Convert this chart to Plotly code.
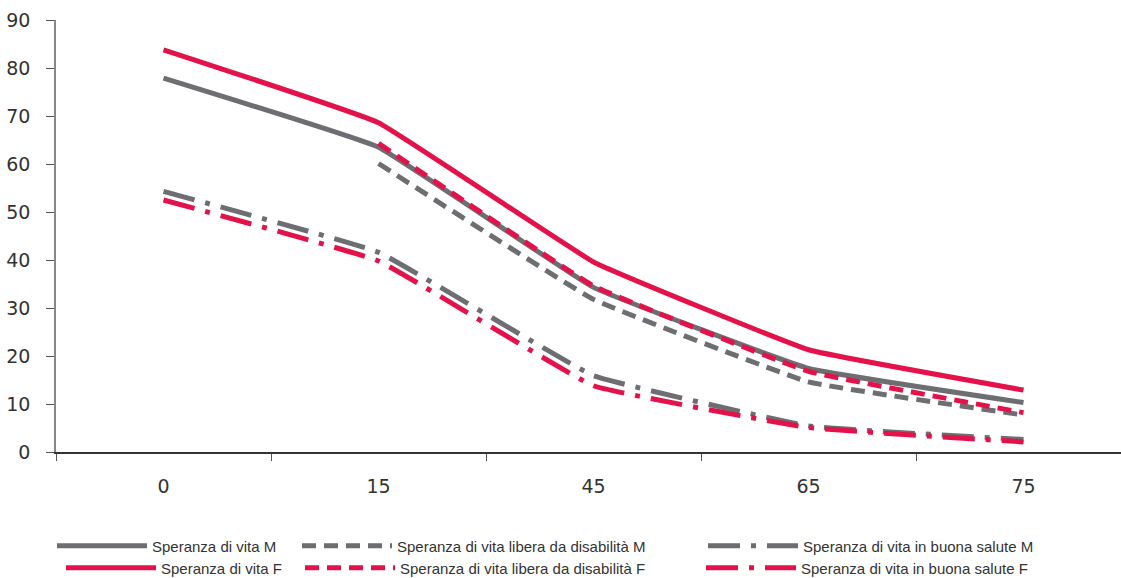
import plotly.graph_objects as go

categories = ["0", "15", "45", "65", "75"]

vita_M = [77.9, 63.5, 34.3, 17.4, 10.3]
vita_F = [83.8, 68.6, 39.6, 21.3, 12.9]
libera_M = [None, 60.1, 31.8, 14.6, 7.7]
libera_F = [None, 64.3, 34.6, 16.8, 8.2]
salute_M = [54.3, 41.6, 15.9, 5.4, 2.6]
salute_F = [52.5, 39.8, 13.8, 5.1, 2.1]

names = ["Speranza di vita M", "Speranza di vita libera da disabilità M", "Speranza di vita in buona salute M",
         "Speranza di vita F", "Speranza di vita libera da disabilità F", "Speranza di vita in buona salute F"]

GREY = "#6d6e71"
RED = "#e3124b"
DASH = "14px,8px"
DASHDOT = "32px,11px,5px,11px"

# page geometry (body margin removed, div at 0,0)
PL, PT, PR, PB = 56, 20, 0, 126
W, H = 1121, 578
plot_w = W - PL - PR
plot_h = H - PT - PB


def px_to_paper_x(px):
    return (px - PL) / plot_w


def px_to_paper_y(py):
    return (H - PB - py) / plot_h


# legend entry positions in page pixels (sample start x, row centre y)
legend_pos = [(57, 546), (302, 546), (708, 546), (66, 568), (305, 568), (706, 568)]

fig = go.Figure()
series = [
    (vita_M, GREY, "solid"),
    (libera_M, GREY, DASH),
    (salute_M, GREY, DASHDOT),
    (vita_F, RED, "solid"),
    (libera_F, RED, DASH),
    (salute_F, RED, DASHDOT),
]
leg_font = dict(family="Liberation Sans, Arial, sans-serif", size=15, color="#333333")
layout_legends = {}
for i, ((vals, col, dash), name) in enumerate(zip(series, names)):
    key = "legend" if i == 0 else f"legend{i + 1}"
    fig.add_trace(go.Scatter(
        x=categories, y=vals, name=name, mode="lines",
        line=dict(color=col, width=5, dash=dash, shape="spline", smoothing=0.25),
        legend=key, connectgaps=False,
    ))
    lx, ly = legend_pos[i]
    layout_legends[key] = dict(
        orientation="h", x=px_to_paper_x(lx - 5), xanchor="left",
        y=px_to_paper_y(ly), yanchor="middle", font=leg_font, itemwidth=90,
        bgcolor="rgba(0,0,0,0)", borderwidth=0,
    )

tick_font = dict(family="DejaVu Sans, sans-serif", size=19, color="#333333")

fig.update_layout(
    width=W, height=H,
    margin=dict(l=PL, r=PR, t=PT, b=PB, autoexpand=False),
    paper_bgcolor="white", plot_bgcolor="white",
    showlegend=True,
    xaxis=dict(
        type="category", range=[-0.5, -0.5 + plot_w / 215.0],
        showline=True, linecolor="#333333", linewidth=1.5,
        ticks="outside", ticklen=7, tickcolor="#555555", tickson="boundaries",
        showgrid=False, zeroline=False, tickfont=tick_font, ticklabelstandoff=16,
    ),
    yaxis=dict(
        range=[0, 90], tickvals=[0, 10, 20, 30, 40, 50, 60, 70, 80, 90],
        showline=True, linecolor="#888888", linewidth=1.5,
        ticks="outside", ticklen=8, tickcolor="#555555",
        showgrid=False, zeroline=False, tickfont=tick_font, ticklabelstandoff=12,
    ),
    **layout_legends,
)

fig.write_html(
    "out.html",
    config={"displayModeBar": False},
    post_script="document.body.style.margin='0';document.body.style.overflow='hidden';",
)
